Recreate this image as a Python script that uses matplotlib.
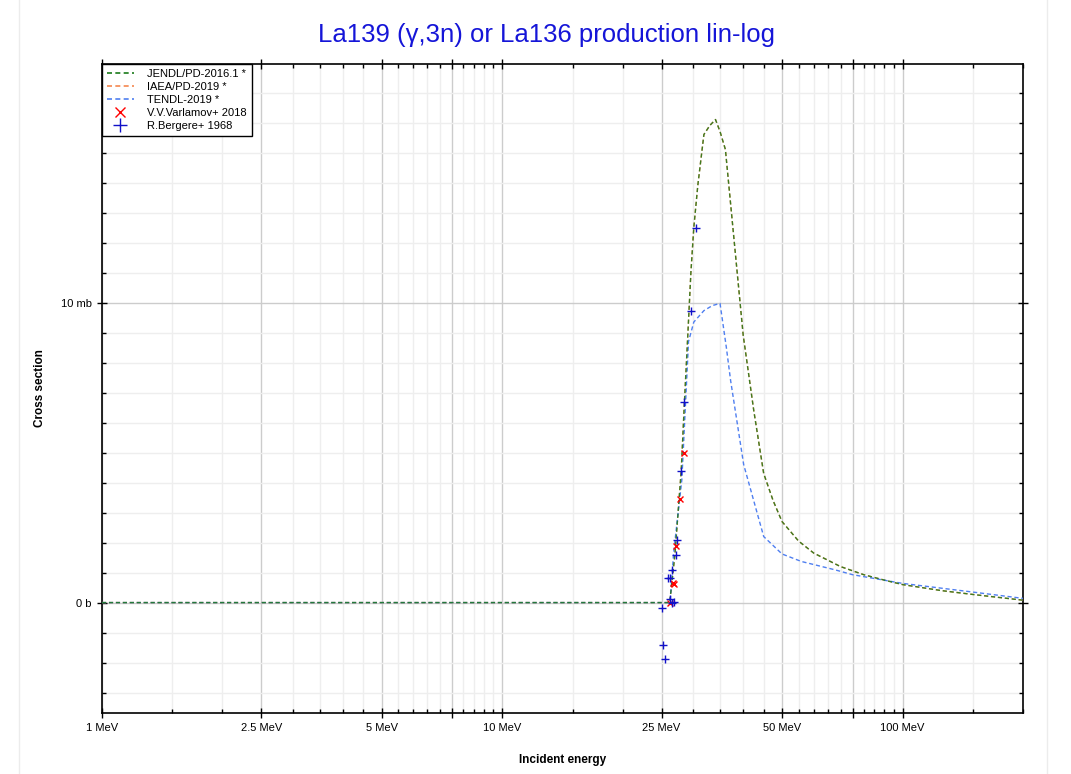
import matplotlib
matplotlib.use("Agg")
import matplotlib.pyplot as plt
from matplotlib.ticker import FixedLocator, NullFormatter, FixedFormatter
from matplotlib.lines import Line2D
import numpy as np

plt.rcParams['font.family'] = ['Liberation Sans', 'DejaVu Sans']

# evaluated data (MeV, mb)
jendl_e = [1.0, 26.2, 27.0, 28.0, 28.5, 29.0, 29.6, 30.1, 30.8, 31.9, 33.0, 34.1, 35.0, 36.1,
           38.0, 40.0, 42.5, 45.0, 47.5, 50.0, 55.0, 60.0, 70.0, 80.0, 90.0, 100.0, 125.0, 150.0, 200.0]
jendl_xs = [0.0, 0.0, 1.6, 4.4, 6.6, 8.6, 11.0, 12.5, 13.9, 15.6, 15.9, 16.1, 15.7, 15.1,
            12.0, 8.9, 6.4, 4.3, 3.4, 2.7, 2.05, 1.65, 1.2, 0.93, 0.75, 0.6, 0.4, 0.27, 0.08]
iaea_e = jendl_e
iaea_xs = jendl_xs
tendl_e = [1.0, 26.0, 26.3, 26.8, 28.1, 29.2, 30.1, 31.9, 33.5, 35.0, 36.3, 37.2, 40.1, 45.0,
           50.0, 55.9, 67.9, 75.0, 100.0, 150.0, 200.0]
tendl_xs = [0.0, 0.0, 0.1, 1.65, 4.1, 8.7, 9.35, 9.73, 9.9, 9.97, 8.5, 7.4, 4.6, 2.2,
            1.62, 1.37, 1.09, 0.93, 0.64, 0.35, 0.14]

# experimental data
varlamov_e = [28.4, 27.8, 27.2, 26.8, 26.7, 26.2]
varlamov_xs = [4.99, 3.44, 1.89, 0.63, 0.65, 0.0]
bergere_e = [30.5, 29.6, 28.5, 28.0, 27.4, 27.2, 26.6, 26.0, 26.2, 26.3, 26.9, 26.6, 25.0, 25.2, 25.5]
bergere_xs = [12.5, 9.71, 6.69, 4.40, 2.09, 1.59, 1.10, 0.81, 0.81, 0.12, 0.01, 0.0, -0.18, -1.40, -1.89]

x_major = [1, 2.5, 5, 7.5, 10, 25, 50, 75, 100]
x_labels = ['1 MeV', '2.5 MeV', '5 MeV', '', '10 MeV', '25 MeV', '50 MeV', '', '100 MeV']
x_minor = list(np.arange(1.5, 10, 0.5)) + list(range(15, 100, 5)) + [150, 200]
y_major = [0, 10]
y_labels = ['0 b', '10 mb']
y_minor = list(range(-3, 18))

fig = plt.figure(figsize=(10.71, 7.74), dpi=100)
ax = fig.add_axes([102/1071, 1-713/774, (1023-102)/1071, (713-64)/774])

ax.plot(iaea_e, iaea_xs, color='#f5874f', lw=1.0, dashes=(3, 2), label='IAEA/PD-2019 *', zorder=3)
ax.plot(jendl_e, jendl_xs, color='#1a7a1a', lw=1.0, dashes=(3, 2), label='JENDL/PD-2016.1 *', zorder=4, alpha=0.85)
ax.plot(tendl_e, tendl_xs, color='#4f7ff0', lw=1.0, dashes=(3, 2), label='TENDL-2019 *', zorder=3)
ax.plot(varlamov_e, varlamov_xs, 'x', color='red', ms=5, mew=1.0, zorder=5)
ax.plot(bergere_e, bergere_xs, '+', color='#1010c8', ms=6, mew=1.0, zorder=5)

ax.set_xscale('log')
ax.set_xlim(1, 200)
ax.set_ylim(-3.68, 17.95)

ax.xaxis.set_major_locator(FixedLocator(x_major))
ax.xaxis.set_major_formatter(FixedFormatter(x_labels))
ax.xaxis.set_minor_locator(FixedLocator(x_minor))
ax.xaxis.set_minor_formatter(NullFormatter())
ax.yaxis.set_major_locator(FixedLocator(y_major))
ax.yaxis.set_major_formatter(FixedFormatter(y_labels))
ax.yaxis.set_minor_locator(FixedLocator(y_minor))

ax.grid(which='major', color='#cccccc', lw=1.0, zorder=0)
ax.grid(which='minor', color='#eeeeee', lw=1.0, zorder=0)
ax.set_axisbelow(True)

ax.tick_params(which='major', direction='inout', length=7, width=1, labelsize=8,
               top=True, right=True, pad=4)
ax.tick_params(which='minor', direction='in', length=3, width=1, top=True, right=True)
for s in ax.spines.values():
    s.set_linewidth(1.2)

ax.set_xlabel('Incident energy', fontsize=8.5, fontweight='bold', labelpad=14.5)
ax.set_ylabel('Cross section', fontsize=8.5, fontweight='bold', labelpad=10.5)

fig.text(546/1071, 1-35/774, 'La139 (\u03b3,3n) or La136 production lin-log',
         color='#1515d8', fontsize=18.5, ha='center', va='center')

handles = [
    Line2D([], [], color='#1a7a1a', lw=1.2, dashes=(3, 2)),
    Line2D([], [], color='#f5874f', lw=1.2, dashes=(3, 2)),
    Line2D([], [], color='#4f7ff0', lw=1.2, dashes=(3, 2)),
    Line2D([], [], color='red', marker='x', ls='none', ms=7, mew=1.0),
    Line2D([], [], color='#1010c8', marker='+', ls='none', ms=10, mew=1.0),
]
labels = ['JENDL/PD-2016.1 *', 'IAEA/PD-2019 *', 'TENDL-2019 *', 'V.V.Varlamov+ 2018', 'R.Bergere+ 1968']
leg = ax.legend(handles, labels, loc='upper left', bbox_to_anchor=(0, 1), borderaxespad=0,
                fontsize=8, labelspacing=0.27, handlelength=2.4, handletextpad=1.2,
                fancybox=False, framealpha=1, edgecolor='black', borderpad=0.45)
leg.get_frame().set_linewidth(1.0)
leg.set_zorder(10)

# light outer frame
for xp in (19, 1047):
    fig.add_artist(Line2D([xp/1071, xp/1071], [0, 1], color='#ececec', lw=1.0))

fig.savefig('out.png', dpi=100)
